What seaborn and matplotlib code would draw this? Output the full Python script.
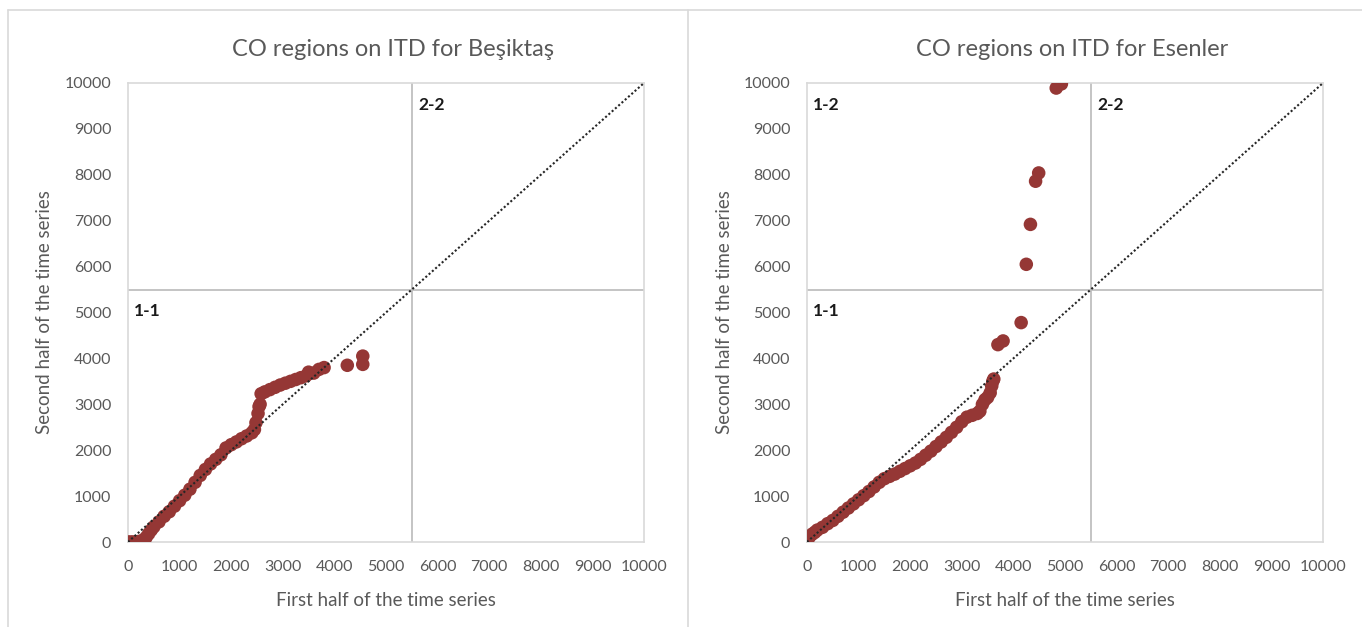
import numpy as np
import pandas as pd
import matplotlib
matplotlib.use("Agg")
import matplotlib.pyplot as plt
from matplotlib.lines import Line2D
import seaborn as sns

# Quantile pairs: first half vs second half of the CO time series
besiktas_first = [0, 50, 100, 150, 200, 250, 300, 350, 400, 450, 500, 600, 700, 800,
                  900, 1000, 1100, 1200, 1300, 1400, 1500, 1600, 1700, 1800, 1900,
                  2000, 2100, 2200, 2300, 2400, 2450, 2480, 2520, 2540, 2560, 2580,
                  2650, 2750, 2850, 2950, 3050, 3150, 3250, 3350, 3450, 3500, 3600,
                  3700, 3800, 4250, 4550, 4550]
besiktas_second = [0, 0, 0, 0, 10, 20, 40, 100, 180, 260, 330, 440, 560, 660,
                   780, 900, 1020, 1150, 1300, 1450, 1580, 1700, 1800, 1900, 2050,
                   2120, 2180, 2250, 2310, 2380, 2450, 2600, 2800, 2950, 3000, 3230,
                   3270, 3320, 3370, 3420, 3460, 3500, 3540, 3580, 3620, 3700, 3680,
                   3760, 3800, 3850, 4050, 3870]

esenler_first = [0, 20, 50, 100, 150, 200, 300, 400, 500, 600, 700, 800, 900, 1000,
                 1100, 1200, 1300, 1400, 1500, 1600, 1700, 1800, 1900, 2000, 2100,
                 2200, 2300, 2400, 2500, 2600, 2700, 2800, 2900, 3000, 3100, 3200,
                 3300, 3350, 3400, 3450, 3500, 3550, 3580, 3600, 3620, 3700, 3800,
                 4150, 4250, 4330, 4430, 4490, 4830, 4930]
esenler_second = [0, 60, 120, 170, 210, 260, 320, 400, 470, 560, 650, 740, 830, 920,
                  1010, 1100, 1200, 1300, 1380, 1430, 1480, 1540, 1600, 1660, 1720,
                  1800, 1890, 1980, 2080, 2180, 2280, 2390, 2500, 2620, 2720, 2760,
                  2800, 2850, 3000, 3100, 3150, 3250, 3400, 3500, 3550, 4300, 4380,
                  4780, 6050, 6920, 7860, 8040, 9890, 9980]

districts = ["Beşiktaş", "Esenler"]
region_labels = {"Beşiktaş": ["1-1", "2-2"], "Esenler": ["1-2", "1-1", "2-2"]}
axis_ticks = list(range(0, 10001, 1000))
split_value = 5500

sns.set_style("white")
plt.rcParams["font.family"] = ["Lato", "DejaVu Sans"]

GRAY_TXT = "#595959"
FRAME = "#d9d9d9"
MARK = "#953735"

fig = plt.figure(figsize=(13.62, 6.27), dpi=100)
W, H = 1362, 627

def fx(px):
    return px / W

def fy(py):
    return 1 - py / H

# outer panel frames
for seg in [((8, 1362), (10, 10)), ((8, 8), (10, 627)), ((688, 688), (10, 627))]:
    fig.add_artist(Line2D([fx(seg[0][0]), fx(seg[0][1])],
                          [fy(seg[1][0]), fy(seg[1][1])],
                          color=FRAME, lw=1.2, transform=fig.transFigure))

frames = {
    "Beşiktaş": pd.DataFrame({"first": besiktas_first, "second": besiktas_second}),
    "Esenler": pd.DataFrame({"first": esenler_first, "second": esenler_second}),
}
axes_left_px = {"Beşiktaş": 128, "Esenler": 807}
ax_w_px, ax_top_px, ax_bot_px = 516, 83, 542

for name in districts:
    lpx = axes_left_px[name]
    ax = fig.add_axes([fx(lpx), fy(ax_bot_px), ax_w_px / W, (ax_bot_px - ax_top_px) / H])
    ax.set_xlim(0, 10000)
    ax.set_ylim(0, 10000)

    # quadrant dividers
    ax.plot([split_value, split_value], [0, 10000], color="#bfbfbf", lw=1.3, zorder=1)
    ax.plot([0, 10000], [split_value, split_value], color="#bfbfbf", lw=1.3, zorder=1)

    sns.scatterplot(data=frames[name], x="first", y="second", ax=ax, color=MARK,
                    s=95, edgecolor="none", linewidth=0, zorder=3, legend=False)

    # 1:1 reference line
    lim = ax.get_xlim()
    ax.plot(lim, lim, color="#262626", ls=(0, (1, 1.1)), lw=1.5, zorder=4)

    for sp in ax.spines.values():
        sp.set_color(FRAME)
        sp.set_linewidth(1.2)
    ax.set_xticks(axis_ticks)
    ax.set_yticks(axis_ticks)
    ax.tick_params(axis="both", length=0, labelsize=11.5, labelcolor=GRAY_TXT)
    ax.tick_params(axis="x", pad=13)
    ax.tick_params(axis="y", pad=12)
    ax.set_xlabel("")
    ax.set_ylabel("")

    cx = lpx + ax_w_px / 2
    fig.text(fx(cx + 7), fy(50), f"CO regions on ITD for {name}", ha="center",
             va="center", fontsize=17, color=GRAY_TXT)
    fig.text(fx(cx), fy(600), "First half of the time series", ha="center",
             va="center", fontsize=13.5, color=GRAY_TXT)
    fig.text(fx(lpx - 83), fy((ax_top_px + ax_bot_px) / 2), "Second half of the time series",
             ha="center", va="center", rotation=90, fontsize=13.5, color=GRAY_TXT)

    pos = {"1-1": (120, 5200), "2-2": (5620, 9700), "1-2": (120, 9700)}
    for lab in region_labels[name]:
        x, y = pos[lab]
        ax.text(x, y, lab, ha="left", va="top", fontsize=12.5, fontweight="bold",
                color="#1a1a1a", zorder=5)

fig.savefig("out.png", dpi=100, facecolor="white")
